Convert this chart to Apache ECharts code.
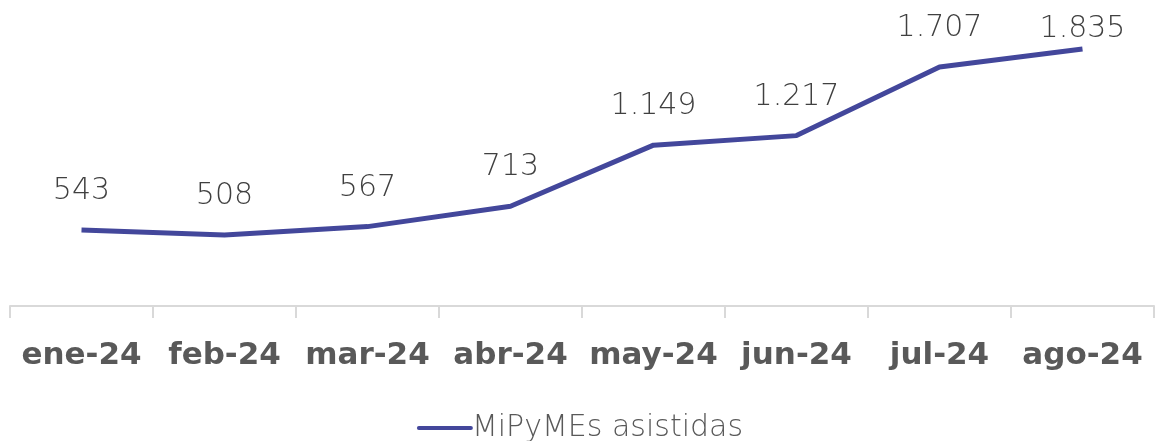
<!DOCTYPE html>
<html><head><meta charset="utf-8">
<script src="https://cdn.jsdelivr.net/npm/echarts@6/dist/echarts.min.js"></script>
<style>html,body{margin:0;padding:0;background:#fff}#c{width:1160px;height:441px}</style>
</head><body><div id="c"></div>
<script>
const categories = ['ene-24','feb-24','mar-24','abr-24','may-24','jun-24','jul-24','ago-24'];
const values = [543, 508, 567, 713, 1149, 1217, 1707, 1835];
const seriesName = 'MiPyMEs asistidas';

function fmt(v){ return String(v).replace(/\B(?=(\d{3})+(?!\d))/g, '.'); }

const seriesData = values.map((v, i) => i === values.length - 1
  ? {value: v, label: {distance: 4}}
  : v);

const chart = echarts.init(document.getElementById('c'), null, {renderer:'canvas'});
chart.setOption({
  animation:false,
  grid:{left:10, right:6, top:26, bottom:135, containLabel:false},
  legend:{
    top:408, left:'center', itemWidth:56, itemHeight:5, itemGap:10,
    textStyle:{fontFamily:'DejaVu Sans', fontWeight:200, fontSize:30, color:'#595959', padding:[0,0,0,-6]},
    data:[{name:seriesName, icon:'path://M2,0 L54,0 A2,2 0 0 1 54,4 L2,4 A2,2 0 0 1 2,0 Z',
      itemStyle:{color:'#43479B', opacity:1}}]
  },
  xAxis:{
    type:'category', data:categories, boundaryGap:true,
    axisLine:{lineStyle:{color:'#d9d9d9', width:2}},
    axisTick:{show:true, interval:0, length:12, lineStyle:{color:'#d9d9d9', width:2}},
    axisLabel:{interval:0, margin:34, fontFamily:'DejaVu Sans', fontWeight:'bold', fontSize:31, color:'#595959'}
  },
  yAxis:{type:'value', min:0, max:2000, show:false, splitLine:{show:false}},
  series:[{
    name:seriesName, type:'line', data:seriesData, symbol:'circle', symbolSize:1, showSymbol:true,
    lineStyle:{color:'#43479B', width:5},
    itemStyle:{color:'#43479B', opacity:0},
    label:{show:true, position:'top', distance:23, formatter:p=>fmt(p.value), opacity:1,
      fontFamily:'DejaVu Sans', fontWeight:200, fontSize:30, color:'#404040'}
  }]
});
</script></body></html>
